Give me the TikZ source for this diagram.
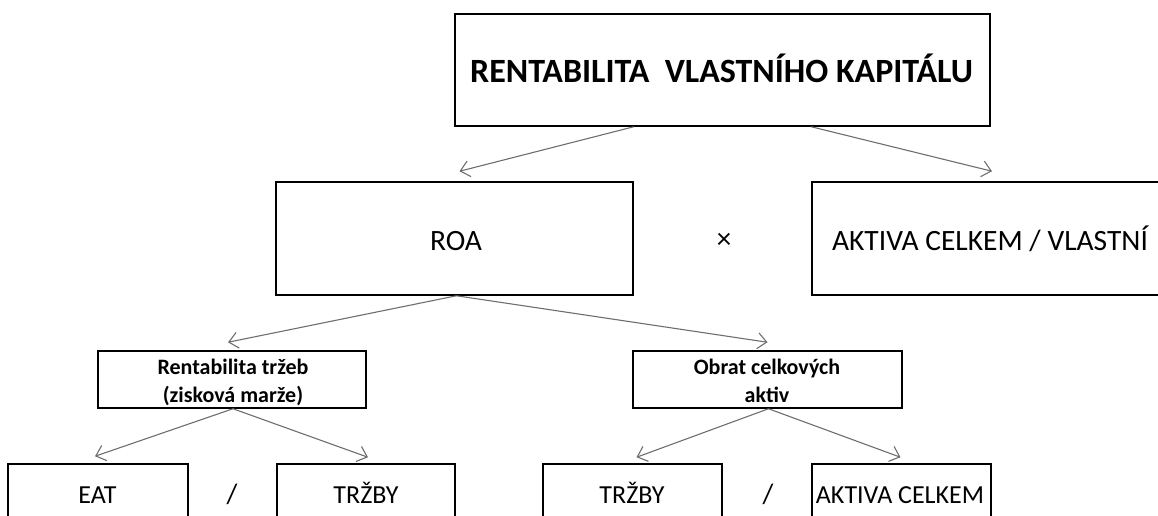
\documentclass[tikz,border=0pt]{standalone}
\usepackage{fontspec}
\setmainfont{Carlito}
\usetikzlibrary{arrows.meta,calc}
\definecolor{linkgray}{HTML}{6E6E6E}
\begin{document}
\begin{tikzpicture}[x=1pt,y=-1pt,
  box/.style={draw=black,line width=1.5pt,rectangle,inner sep=0pt},
  bigbox/.style={box,minimum width=357pt,minimum height=113pt},
  midbox/.style={box,minimum width=268pt,minimum height=57pt},
  lowbox/.style={box,minimum width=180pt,minimum height=113pt},
  link/.style={draw=linkgray,line width=1.1pt,
    -{Straight Barb[length=9pt,width=16pt,line width=1.1pt]}},
  txt/.style={anchor=base,inner sep=0pt},
  toptxt/.style={txt,font={\fontsize{34pt}{40pt}\selectfont\bfseries}},
  bigtxt/.style={txt,font={\fontsize{29.5pt}{35pt}\selectfont}},
  midtxt/.style={txt,font={\fontsize{22pt}{26pt}\selectfont\bfseries}},
  lowtxt/.style={txt,font={\fontsize{26pt}{31pt}\selectfont}},
  optxt/.style={anchor=center,inner sep=0pt}]
\useasboundingbox (0,0) rectangle (1158,515);
\clip (0,0) rectangle (1158,515);

% return on equity
\node[box,minimum width=535pt,minimum height=112pt] (roe) at (722.5,70) {};
\node[toptxt] (roet) at (721.5,82) {RENTABILITA~ VLASTNÍHO KAPITÁLU};

% second level: ROA times equity multiplier
\node[bigbox] (roa) at (454.5,238.5) {};
\node[bigtxt] (roat) at (456,250) {ROA};
\node[bigbox,minimum width=360pt] (lev) at (992,238.5) {};
\node[bigtxt] (levt) at (990,250) {AKTIVA CELKEM / VLASTNÍ};
\node[optxt,font={\fontsize{29pt}{35pt}\selectfont}] (times) at (724,241) {×};

% third level
\node[midbox] (ros) at (232,379.5) {};
\node[midtxt] (ros1) at (233,374) {Rentabilita tržeb};
\node[midtxt] (ros2) at (233,402) {(zisková marže)};
\node[midbox,minimum width=269pt] (tato) at (767.5,379.5) {};
\node[midtxt] (tato1) at (767,374) {Obrat celkových};
\node[midtxt] (tato2) at (767,402) {aktiv};

% fourth level
\node[lowbox] (eat) at (98,520.5) {};
\node[lowtxt] (eatt) at (97.5,503) {EAT};
\node[lowbox,minimum width=178pt] (sal1) at (366,520.5) {};
\node[lowtxt] (sal1t) at (366,503) {TRŽBY};
\node[optxt,font={\fontsize{28pt}{34pt}\selectfont}] (div1) at (232,494) {/};

\node[lowbox,minimum width=179pt] (sal2) at (632.5,520.5) {};
\node[lowtxt] (sal2t) at (632,503) {TRŽBY};
\node[lowbox,minimum width=179pt] (ta) at (901.5,520.5) {};
\node[lowtxt] (tat) at (900,503) {AKTIVA CELKEM};
\node[optxt,font={\fontsize{28pt}{34pt}\selectfont}] (div2) at (768,494) {/};

% connectors
\draw[link] (roe.south -| roa.east) -- ([yshift=10pt,xshift=5pt]roa.north);
\draw[link] (roe.south -| lev.west) -- ([yshift=10pt]lev.north);
\draw[link] ([xshift=2pt]roa.south) -- ([yshift=8pt,xshift=-4pt]ros.north);
\draw[link] ([xshift=2pt]roa.south) -- ([yshift=8pt]tato.north);
\draw[link] ([xshift=1pt]ros.south) -- ([yshift=7pt,xshift=-3pt]eat.north);
\draw[link] ([xshift=1pt]ros.south) -- ([yshift=6pt,xshift=2pt]sal1.north);
\draw[link] ([xshift=1pt]tato.south) -- ([yshift=6pt,xshift=4pt]sal2.north);
\draw[link] ([xshift=1pt]tato.south) -- ([yshift=6pt,xshift=-1pt]ta.north);
\end{tikzpicture}
\end{document}
